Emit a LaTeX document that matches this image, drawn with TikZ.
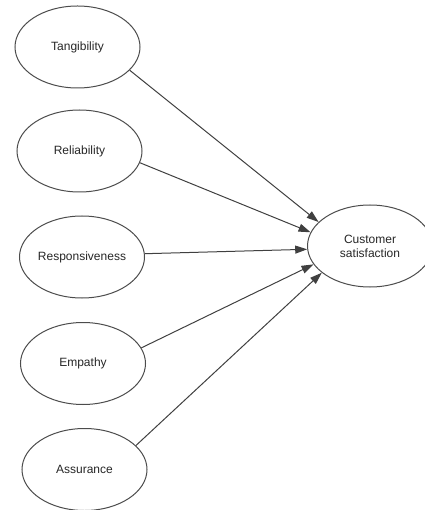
\documentclass[tikz,border=0pt]{standalone}
\usepackage{fontspec}
\setmainfont{Liberation Sans}
\usetikzlibrary{shapes.geometric,arrows.meta}

\begin{document}
\begin{tikzpicture}[x=1pt,y=-1pt,
  every node/.style={ellipse,draw=black!70,line width=1pt,minimum width=125pt,
    minimum height=82pt,inner sep=0pt,align=center,text=black!85,
    font=\fontsize{12}{14}\selectfont},
  link/.style={draw=black!75,line width=1pt,-{Triangle[length=12pt,width=8pt]}}]
\useasboundingbox (0,0) rectangle (424,510);
  \node (tang) at (77.5,47) {Tangibility};
  \node (reli) at (79.5,151) {Reliability};
  \node (resp) at (82,257) {Responsiveness};
  \node (empa) at (83,363.5) {Empathy};
  \node (assu) at (84.5,469.5) {Assurance};
  \node (cust) at (370,246) {Customer\\satisfaction};
  % paths into the outcome
  \draw[link] (tang.-24) -- (cust.155);
  \draw[link] (reli.-11) -- (cust.167);
  \draw[link] (resp.3) -- (cust.183);
  \draw[link] (empa.15) -- (cust.198);
  \draw[link] (assu.25) -- (cust.209);
\end{tikzpicture}
\end{document}
